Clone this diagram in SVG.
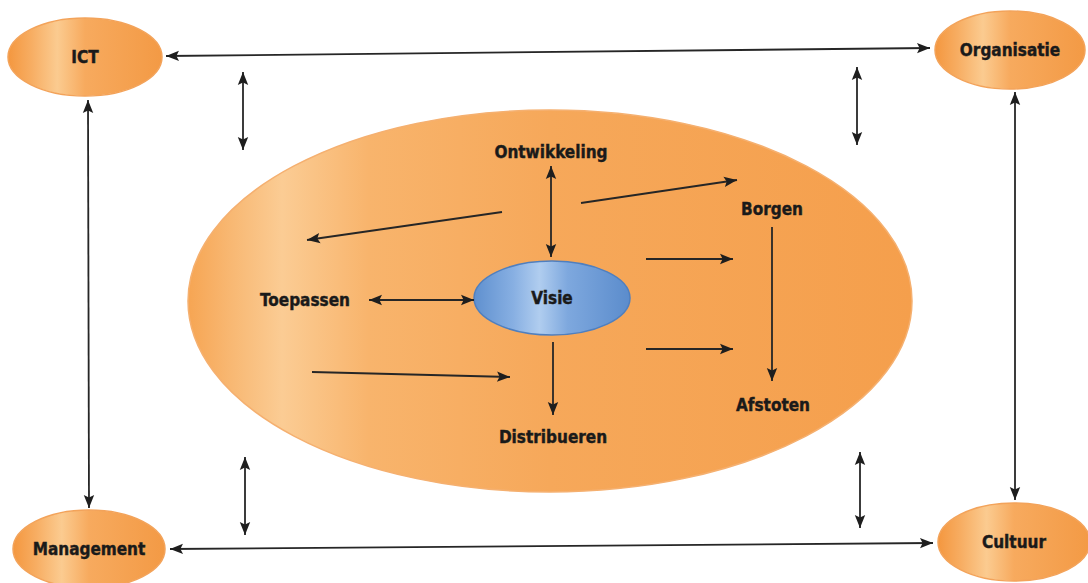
<svg xmlns="http://www.w3.org/2000/svg" width="1088" height="583" viewBox="0 0 1088 583">
<defs>
<linearGradient id="og" x1="0" y1="0" x2="1" y2="0">
<stop offset="0" stop-color="#f4973f"/>
<stop offset="0.15" stop-color="#f7ad62"/>
<stop offset="0.32" stop-color="#fbcb90"/>
<stop offset="0.5" stop-color="#f7aa5e"/>
<stop offset="1" stop-color="#f39a45"/>
</linearGradient>
<linearGradient id="big" x1="0" y1="0" x2="1" y2="0">
<stop offset="0" stop-color="#f6a553"/>
<stop offset="0.06" stop-color="#f8b873"/>
<stop offset="0.13" stop-color="#fbcc94"/>
<stop offset="0.25" stop-color="#f8b46c"/>
<stop offset="0.5" stop-color="#f6a85a"/>
<stop offset="1" stop-color="#f59f4c"/>
</linearGradient>
<linearGradient id="blue" x1="0" y1="0" x2="1" y2="0">
<stop offset="0" stop-color="#5f90cf"/>
<stop offset="0.25" stop-color="#87afe2"/>
<stop offset="0.42" stop-color="#b0cdef"/>
<stop offset="0.6" stop-color="#7ea8de"/>
<stop offset="1" stop-color="#5b8ccc"/>
</linearGradient>
<marker id="ahL" viewBox="0 0 10 10" refX="10" refY="5" markerWidth="15" markerHeight="13" markerUnits="userSpaceOnUse" orient="auto-start-reverse">
<path d="M0,1 L10,5 L0,9 L2,5 Z" fill="#1e1e1e"/>
</marker>
</defs>
<style>
.n{stroke:#f3a35a;stroke-width:1.5}
.t{font-family:"DejaVu Sans Condensed","DejaVu Sans",sans-serif;font-weight:bold;font-size:17px;fill:#1a1a1a;stroke:#1a1a1a;stroke-width:0.4;text-anchor:middle;dominant-baseline:central}
.c{stroke:#262626;stroke-width:1.8;fill:none}
.s{marker-end:url(#ahL)}
.d{marker-start:url(#ahL);marker-end:url(#ahL)}
</style>
<rect width="1088" height="583" fill="#ffffff"/>
<g id="n-big"><ellipse cx="550" cy="301" rx="362" ry="191" fill="url(#big)" stroke="#f5b070" stroke-width="1.5"/></g>
<g id="n-ict"><ellipse cx="85" cy="57" rx="77" ry="39" class="n" fill="url(#og)"/><text class="t" x="85" y="57">ICT</text></g>
<g id="n-org"><ellipse cx="1010" cy="50" rx="75" ry="39" class="n" fill="url(#og)"/><text class="t" x="1010" y="50">Organisatie</text></g>
<g id="n-man"><ellipse cx="89" cy="549" rx="76" ry="39" class="n" fill="url(#og)"/><text class="t" x="89" y="549">Management</text></g>
<g id="n-cul"><ellipse cx="1014" cy="542" rx="76" ry="39" class="n" fill="url(#og)"/><text class="t" x="1014" y="542">Cultuur</text></g>
<g id="n-visie"><ellipse cx="552" cy="298" rx="78" ry="37" fill="url(#blue)" stroke="#4f7fbf" stroke-width="1.5"/><text class="t" x="552" y="298">Visie</text></g>
<g id="n-ontw"><text class="t" x="551" y="152">Ontwikkeling</text></g>
<g id="n-borg"><text class="t" x="772" y="209">Borgen</text></g>
<g id="n-toep"><text class="t" x="305" y="300">Toepassen</text></g>
<g id="n-distr"><text class="t" x="553" y="437">Distribueren</text></g>
<g id="n-afst"><text class="t" x="773" y="405">Afstoten</text></g>
<g id="connectors">
<line class="c d" x1="166" y1="56" x2="930" y2="48"/>
<line class="c d" x1="88" y1="100" x2="89" y2="508"/>
<line class="c d" x1="1015" y1="92" x2="1015" y2="500"/>
<line class="c d" x1="170" y1="549" x2="933" y2="543"/>
<line class="c d" x1="243" y1="72" x2="243" y2="150"/>
<line class="c d" x1="857" y1="67" x2="857" y2="145"/>
<line class="c d" x1="245" y1="457" x2="245" y2="535"/>
<line class="c d" x1="860" y1="452" x2="860" y2="528"/>
<line class="c d" x1="551" y1="166" x2="551" y2="257"/>
<line class="c s" x1="581" y1="203" x2="737" y2="180"/>
<line class="c s" x1="502" y1="212" x2="307" y2="240"/>
<line class="c d" x1="369" y1="300" x2="474" y2="300"/>
<line class="c s" x1="646" y1="259" x2="733" y2="259"/>
<line class="c s" x1="646" y1="349" x2="733" y2="349"/>
<line class="c s" x1="772" y1="227" x2="772" y2="381"/>
<line class="c s" x1="312" y1="372" x2="510" y2="377"/>
<line class="c s" x1="553" y1="342" x2="553" y2="415"/>
</g>
</svg>
